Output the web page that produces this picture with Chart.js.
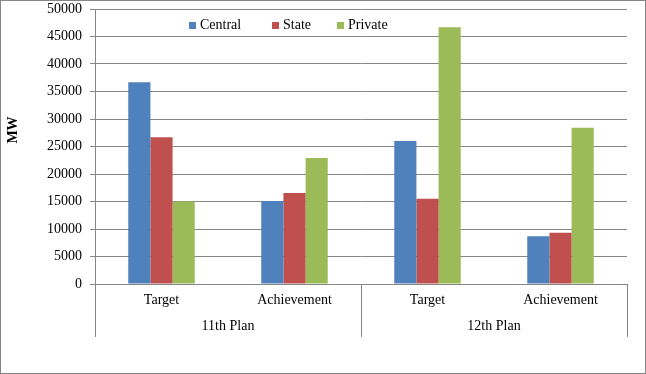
<!DOCTYPE html>
<html>
<head>
<meta charset="utf-8">
<script src="https://cdn.jsdelivr.net/npm/chart.js@4.4.1/dist/chart.umd.min.js"></script>
<style>
  html, body { margin: 0; padding: 0; background: #fff; }
  #wrap { position: relative; width: 646px; height: 374px; }
</style>
</head>
<body>
<div id="wrap"><canvas id="chart"></canvas></div>
<script>
const categories = ['Target', 'Achievement', 'Target', 'Achievement'];
const plans = ['11th Plan', '12th Plan'];
const central = [36700, 15100, 26000, 8700];
const state = [26700, 16550, 15500, 9300];
const privateSector = [15000, 22900, 46700, 28400];
const yTicks = [0, 5000, 10000, 15000, 20000, 25000, 30000, 35000, 40000, 45000, 50000];

const FONT = 'Liberation Serif, Times New Roman, serif';
const GRID = '#868686';

// legend, axis title, bottom frame lines and outer border
const decorations = {
    id: 'decorations',
    afterDraw(chart) {
        const ctx = chart.ctx;
        const area = chart.chartArea;
        const x = chart.scales.x;
        ctx.save();
        ctx.strokeStyle = GRID;
        ctx.lineWidth = 1;

        // vertical lines through the category band
        const bottom = area.bottom + 53;
        const mid = (x.getPixelForValue(1) + x.getPixelForValue(2)) / 2;
        [area.left, mid, area.right].forEach(px => {
            const xx = Math.round(px) + 0.5;
            ctx.beginPath();
            ctx.moveTo(xx, area.bottom);
            ctx.lineTo(xx, bottom);
            ctx.stroke();
        });

        // outer border
        ctx.strokeRect(0.5, 0.5, chart.width - 1, chart.height - 1);

        // y title
        ctx.fillStyle = '#000';
        ctx.font = 'bold 14px ' + FONT;
        ctx.textAlign = 'center';
        ctx.textBaseline = 'middle';
        ctx.translate(13, 130);
        ctx.rotate(-Math.PI / 2);
        ctx.fillText('MW', 0, 0);
        ctx.restore();

        // legend
        ctx.save();
        ctx.font = '14px ' + FONT;
        ctx.textBaseline = 'middle';
        ctx.textAlign = 'left';
        const legendX = [189, 272, 337];
        chart.data.datasets.forEach((ds, i) => {
            ctx.fillStyle = ds.backgroundColor;
            ctx.fillRect(legendX[i], 22, 7, 7);
            ctx.fillStyle = '#000';
            ctx.fillText(ds.label, legendX[i] + 11, 25.5);
        });
        ctx.restore();
    }
};

new Chart(document.getElementById('chart'), {
    type: 'bar',
    data: {
        labels: categories,
        datasets: [
            { label: 'Central', data: central, backgroundColor: '#4F81BD' },
            { label: 'State', data: state, backgroundColor: '#C0504D' },
            { label: 'Private', data: privateSector, backgroundColor: '#9BBB59' }
        ]
    },
    options: {
        responsive: true,
        maintainAspectRatio: false,
        animation: false,
        layout: { padding: { top: 9, right: 19, bottom: 37, left: 0 } },
        datasets: { bar: { barPercentage: 1, categoryPercentage: 0.5 } },
        plugins: {
            legend: { display: false },
            tooltip: { enabled: false }
        },
        scales: {
            x: {
                weight: 0,
                grid: { display: false, drawTicks: false },
                border: { display: true, color: GRID },
                ticks: { color: '#000', font: { family: FONT, size: 14 }, padding: 8, maxRotation: 0 },
                afterFit: s => { s.height = 26; s.paddingLeft = 0; s.paddingRight = 0; }
            },
            x2: {
                type: 'category',
                position: 'bottom',
                weight: 1,
                labels: plans,
                offset: true,
                grid: { display: false, drawTicks: false },
                border: { display: false },
                ticks: { color: '#000', font: { family: FONT, size: 14 }, padding: 8, maxRotation: 0 },
                afterFit: s => { s.height = 27; s.paddingLeft = 0; s.paddingRight = 0; }
            },
            y: {
                min: 0,
                max: 50000,
                afterBuildTicks: s => { s.ticks = yTicks.map(v => ({ value: v })); },
                grid: { color: GRID, tickLength: 5 },
                border: { color: GRID },
                ticks: { color: '#000', font: { family: FONT, size: 14 }, padding: 8, callback: v => String(v) },
                afterFit: s => { s.width = 95; s.paddingTop = 0; s.paddingBottom = 0; }
            }
        }
    },
    plugins: [decorations]
});
</script>
</body>
</html>
